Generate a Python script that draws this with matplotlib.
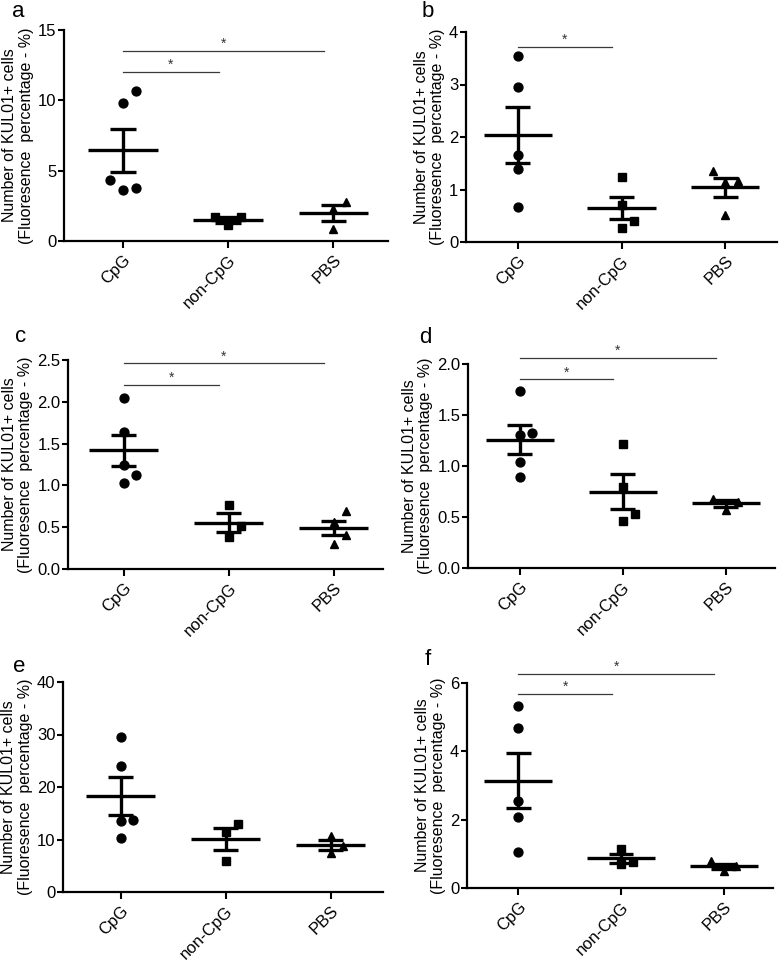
import numpy as np
import matplotlib
matplotlib.use("Agg")
import matplotlib.pyplot as plt
from matplotlib.ticker import FormatStrFormatter

plt.rcParams['font.family'] = ['Liberation Sans', 'DejaVu Sans']

# --- data ---
groups = ['CpG', 'non-CpG', 'PBS']
ylabel = 'Number of KUL01+ cells\n(Fluoresence  percentage - %)'

a_cpg = [10.66, 9.78, 4.37, 3.61, 3.80]
a_noncpg = [1.70, 1.12, 1.68]
a_pbs = [2.80, 2.30, 0.85]
a_ticks = [0, 5, 10, 15]
a_sig = [(0, 1, 12.0), (0, 2, 13.5)]

b_cpg = [3.54, 2.95, 1.65, 1.39, 0.67]
b_noncpg = [1.23, 0.70, 0.40, 0.27]
b_pbs = [1.16, 1.14, 1.35, 0.52]
b_ticks = [0, 1, 2, 3, 4]
b_sig = [(0, 1, 3.71)]

c_cpg = [2.05, 1.64, 1.24, 1.13, 1.03]
c_noncpg = [0.76, 0.52, 0.38]
c_pbs = [0.69, 0.56, 0.41, 0.30]
c_ticks = [0.0, 0.5, 1.0, 1.5, 2.0, 2.5]
c_sig = [(0, 1, 2.20), (0, 2, 2.46)]

d_cpg = [1.735, 1.307, 1.327, 1.04, 0.889]
d_noncpg = [1.22, 0.79, 0.53, 0.46]
d_pbs = [0.68, 0.57, 0.65]
d_ticks = [0.0, 0.5, 1.0, 1.5, 2.0]
d_sig = [(0, 1, 1.85), (0, 2, 2.06)]

e_cpg = [29.6, 24.05, 13.7, 13.6, 10.25]
e_noncpg = [12.9, 11.5, 6.0]
e_pbs = [10.76, 8.8, 7.4]
e_ticks = [0, 10, 20, 30, 40]
e_sig = []

f_cpg = [5.32, 4.67, 2.55, 2.09, 1.05]
f_noncpg = [1.14, 0.76, 0.71]
f_pbs = [0.78, 0.49, 0.63]
f_ticks = [0, 2, 4, 6]
f_sig = [(0, 1, 5.67), (0, 2, 6.27)]

FIG_W, FIG_H = 780, 960
fig = plt.figure(figsize=(FIG_W / 100, FIG_H / 100), dpi=100)

markers = ['o', 's', '^']
msizes = [6.4, 5.8, 6.4]


def spread(vals, px_per_unit, thr_px=13, step=0.12):
    # simple greedy scatter spreading for points that overlap vertically
    vals = np.asarray(vals, float)
    offs = np.zeros(len(vals))
    placed = []
    for k in np.argsort(vals):
        for c in [0, step, -step, 2 * step, -2 * step]:
            if all(abs(vals[k] - v) * px_per_unit >= thr_px for v, o in placed if o == c):
                offs[k] = c
                break
        placed.append((vals[k], offs[k]))
    return offs


def panel(rect, letter, letter_xy, data, ticks, sig, xlim):
    ax = fig.add_axes(rect)
    ymax = ticks[-1]
    ax.set_ylim(0, ymax)
    ax.set_xlim(*xlim)
    px_per_unit = rect[3] * FIG_H / ymax
    for i, vals in enumerate(data):
        offs = spread(vals, px_per_unit)
        ax.plot(i + offs, vals, linestyle='none', marker=markers[i],
                markersize=msizes[i], color='black', zorder=3)
        m = np.mean(vals)
        s = np.std(vals, ddof=1) / np.sqrt(len(vals))
        ax.hlines(m, i - 0.33, i + 0.33, color='black', lw=2.4, zorder=4)
        ax.hlines([m - s, m + s], i - 0.12, i + 0.12, color='black', lw=2.4, zorder=4)
        ax.vlines(i, m - s, m + s, color='black', lw=2.4, zorder=4)
    for g1, g2, y in sig:
        ax.plot([g1, g2 - 0.09], [y, y], color='#3a3a3a', lw=0.9, clip_on=False)
        ax.text((g1 + g2 - 0.09) / 2, y, '*', ha='center', va='bottom',
                fontsize=10, color='#333333')
    ax.set_yticks(ticks)
    if any(t != int(t) for t in ticks):
        ax.yaxis.set_major_formatter(FormatStrFormatter('%.1f'))
    ax.set_xticks(range(len(groups)))
    ax.set_xticklabels(groups, rotation=45, ha='right', rotation_mode='anchor')
    ax.tick_params(axis='y', direction='out', length=4, width=1.5, labelsize=12, pad=1.5)
    ax.tick_params(axis='x', direction='out', length=5, width=1.5, labelsize=12, pad=3)
    for sp in ['top', 'right']:
        ax.spines[sp].set_visible(False)
    for sp in ['left', 'bottom']:
        ax.spines[sp].set_linewidth(1.6)
    ax.set_ylabel(ylabel, fontsize=11.5, linespacing=1.1, labelpad=3)
    fig.text(letter_xy[0] / FIG_W, 1 - letter_xy[1] / FIG_H, letter,
             fontsize=16, ha='left', va='baseline')
    return ax


panel([64 / FIG_W, 1 - 241 / FIG_H, 324 / FIG_W, 211 / FIG_H], 'a', (12, 17),
      [a_cpg, a_noncpg, a_pbs], a_ticks, a_sig, (-0.56, 2.52))
panel([466 / FIG_W, 1 - 242 / FIG_H, 311 / FIG_W, 210 / FIG_H], 'b', (422, 17),
      [b_cpg, b_noncpg, b_pbs], b_ticks, b_sig, (-0.5, 2.5))
panel([68 / FIG_W, 1 - 569 / FIG_H, 315 / FIG_W, 209 / FIG_H], 'c', (15, 342),
      [c_cpg, c_noncpg, c_pbs], c_ticks, c_sig, (-0.53, 2.47))
panel([468 / FIG_W, 1 - 568 / FIG_H, 307 / FIG_W, 204 / FIG_H], 'd', (419, 343),
      [d_cpg, d_noncpg, d_pbs], d_ticks, d_sig, (-0.5, 2.48))
panel([63 / FIG_W, 1 - 892 / FIG_H, 320 / FIG_W, 210 / FIG_H], 'e', (13, 672),
      [e_cpg, e_noncpg, e_pbs], e_ticks, e_sig, (-0.55, 2.5))
panel([467 / FIG_W, 1 - 888 / FIG_H, 306 / FIG_W, 205 / FIG_H], 'f', (425, 665),
      [f_cpg, f_noncpg, f_pbs], f_ticks, f_sig, (-0.5, 2.48))

fig.savefig('out.png', dpi=100)
